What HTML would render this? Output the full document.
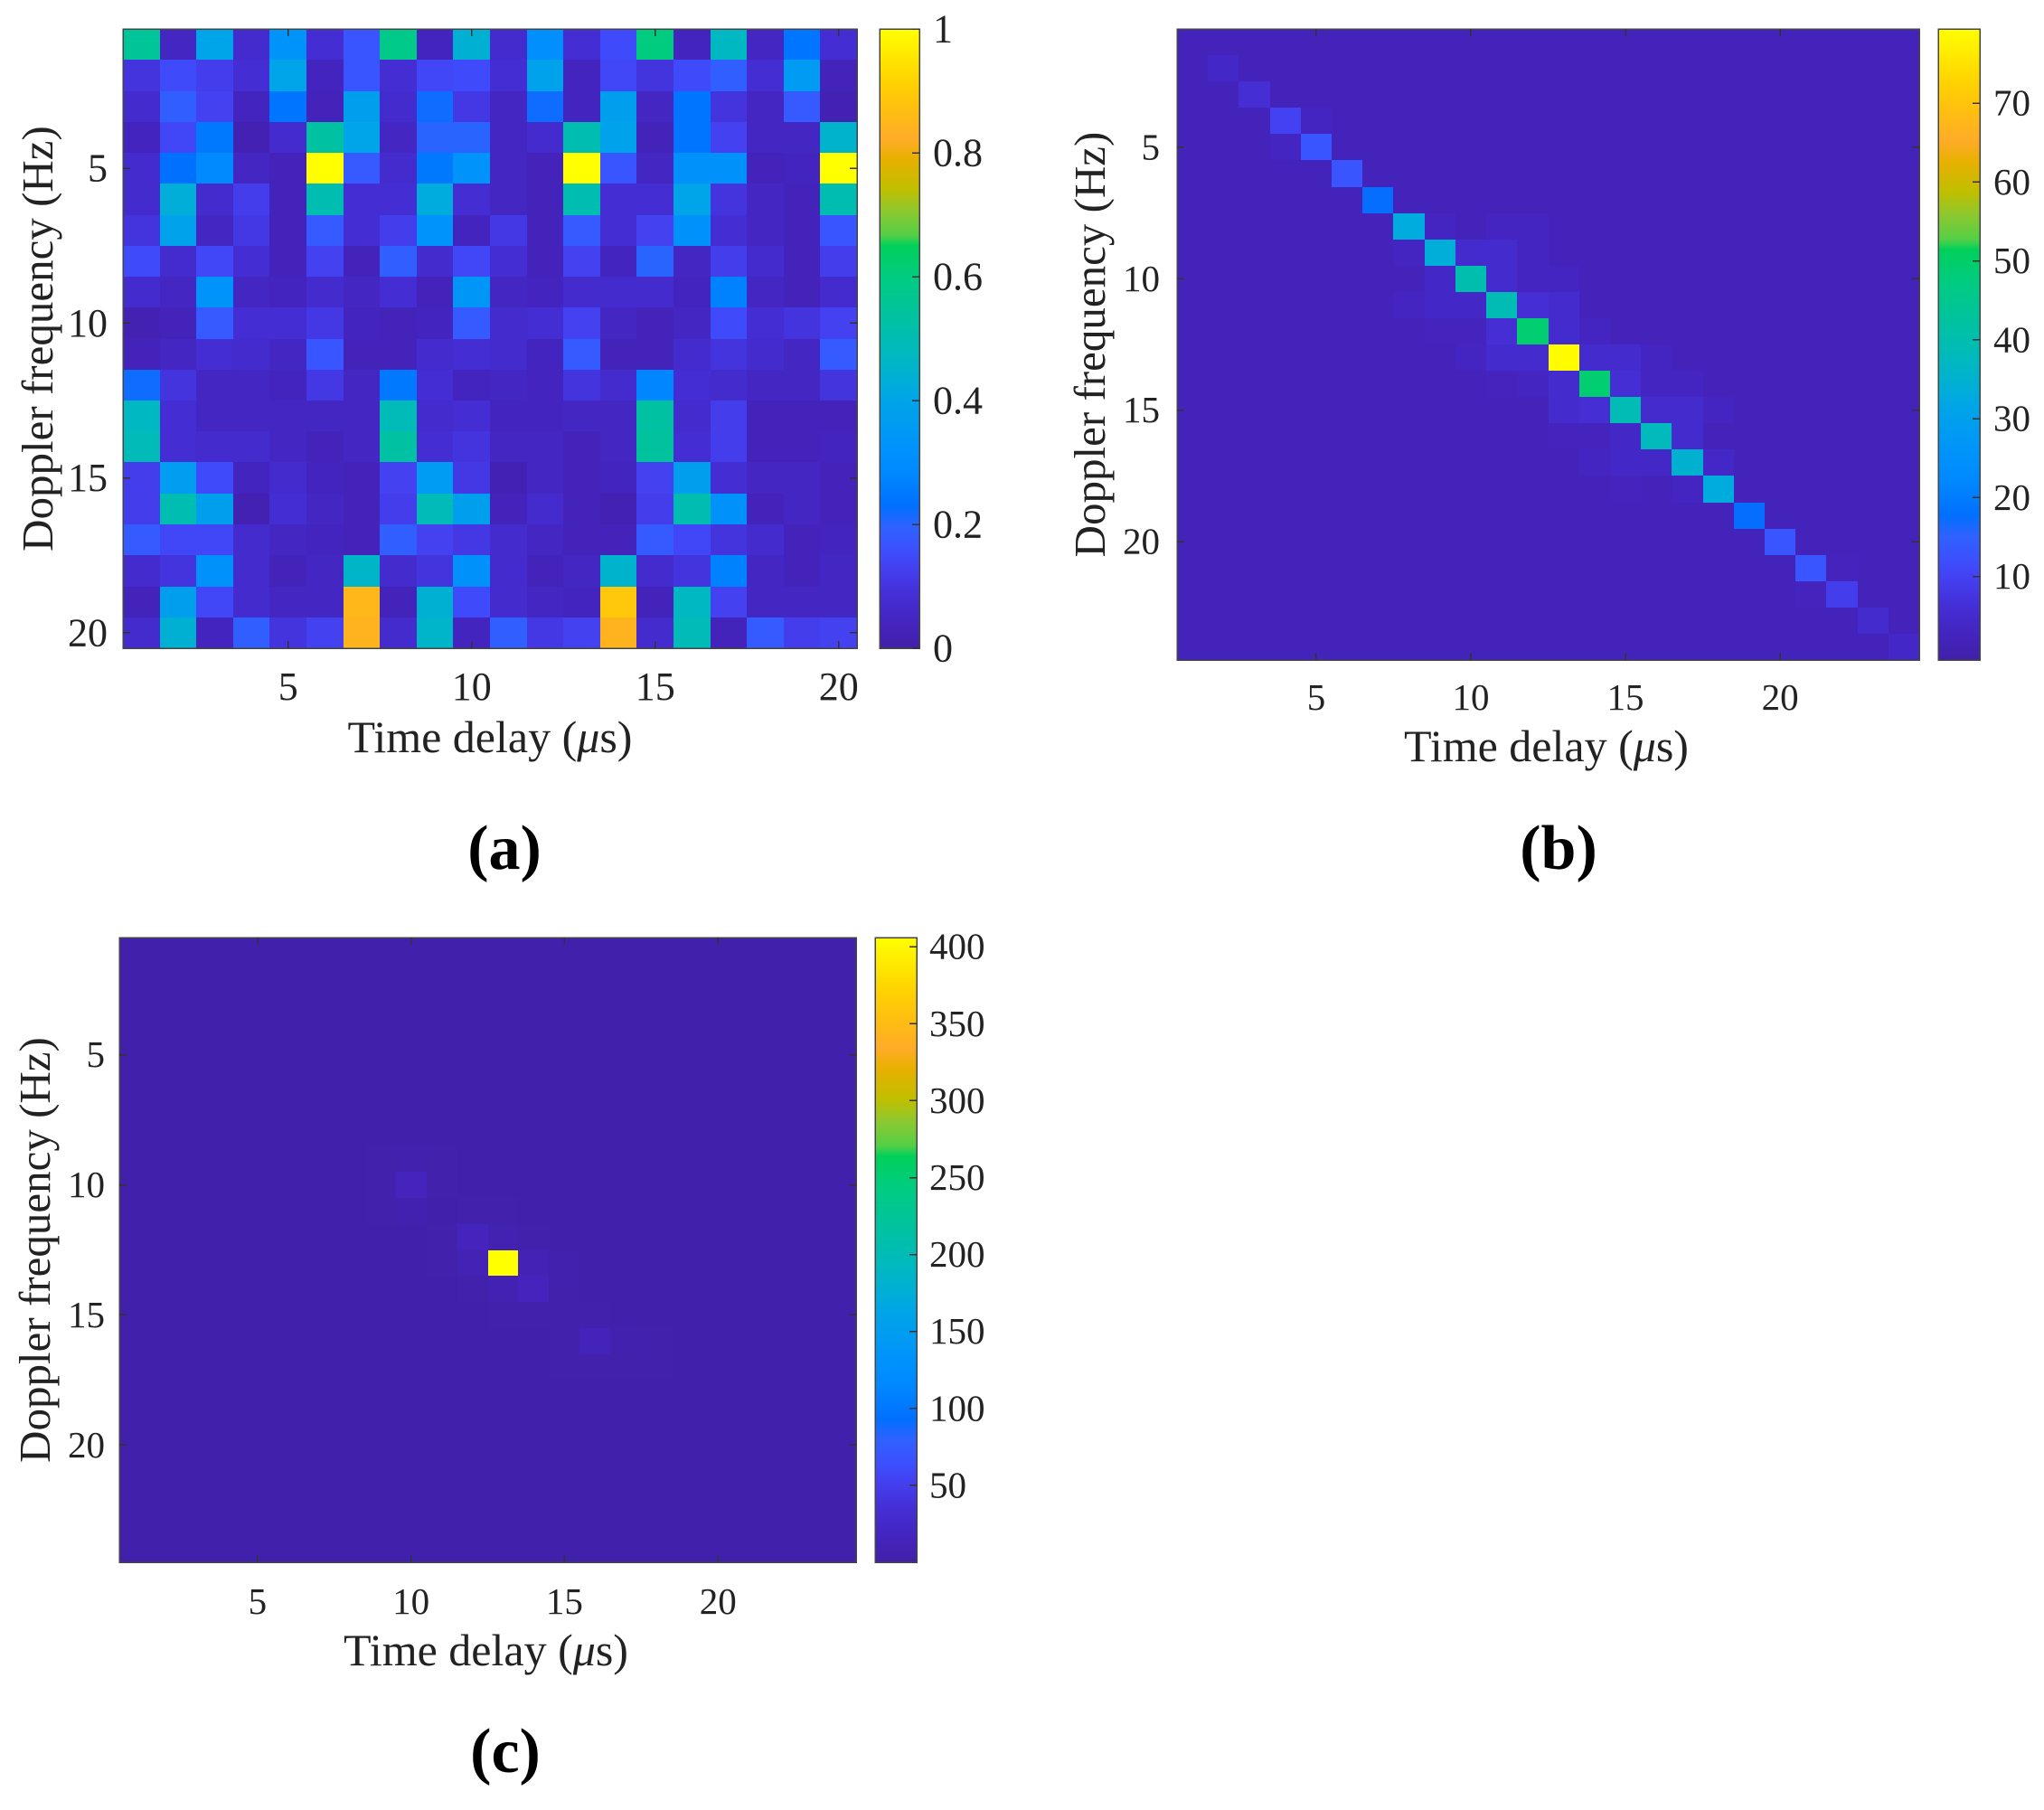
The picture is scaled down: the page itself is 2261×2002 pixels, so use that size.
<!DOCTYPE html>
<html lang="en">
<head>
<meta charset="utf-8">
<title>Delay-Doppler heatmaps</title>
<style>
html,body{margin:0;padding:0;background:#fff;}
svg{display:block;font-family:"Liberation Serif",serif;fill:#222;}
</style>
</head>
<body>
<svg id="figure" xmlns="http://www.w3.org/2000/svg" width="2261" height="2002" viewBox="0 0 2261 2002" shape-rendering="crispEdges"></svg>
<script>
// ---------- data ----------
const colorStopValues = [0, .04, .09, .128, .16, .196, .23, .283, .33, .4, .423, .472, .52, .6, .65, .667, .705, .74, .79, .823, .87, .92, 1];
const colorStopHex = ['#4120a8','#4424be','#4430d8','#4440f0','#3c50ff','#2f62ff','#0070ff','#0088ff','#0094fa','#00a4e8','#00acdc','#00b8c0','#00c0a8','#00cc80','#00d05a','#55cf45','#8cc830','#bfbf00','#e8b000','#ffac28','#ffbf10','#ffd500','#ffff00'];

const tickValuesXY = [5, 10, 15, 20];

const matrixA = [
[.55,.05,.40,.07,.33,.08,.17,.58,.04,.44,.07,.31,.08,.15,.60,.04,.47,.05,.24,.08],
[.10,.15,.12,.08,.40,.04,.17,.08,.14,.15,.08,.39,.04,.14,.10,.15,.19,.08,.36,.03],
[.07,.19,.13,.04,.24,.03,.38,.07,.22,.11,.05,.22,.04,.38,.05,.24,.10,.05,.18,.02],
[.04,.14,.25,.02,.07,.53,.40,.05,.20,.20,.05,.07,.50,.39,.03,.24,.13,.05,.05,.45],
[.07,.23,.29,.05,.03,1,.18,.07,.25,.33,.05,.03,1,.17,.05,.32,.32,.03,.04,1],
[.07,.43,.07,.12,.03,.50,.08,.08,.42,.08,.05,.03,.50,.08,.08,.40,.10,.05,.03,.50],
[.10,.39,.05,.11,.03,.18,.08,.12,.33,.04,.11,.03,.18,.08,.13,.32,.08,.05,.03,.17],
[.15,.07,.14,.08,.03,.13,.03,.19,.07,.14,.08,.03,.13,.04,.20,.05,.12,.07,.03,.12],
[.07,.05,.33,.05,.04,.07,.05,.08,.03,.34,.05,.04,.07,.07,.07,.04,.27,.05,.03,.07],
[.02,.03,.18,.08,.08,.11,.04,.03,.04,.18,.07,.08,.13,.05,.03,.05,.15,.08,.10,.13],
[.03,.05,.08,.07,.05,.17,.03,.03,.07,.08,.07,.04,.18,.03,.03,.07,.10,.07,.05,.18],
[.22,.10,.05,.05,.04,.11,.05,.25,.08,.04,.05,.04,.10,.07,.28,.08,.07,.05,.05,.10],
[.47,.08,.05,.05,.05,.05,.05,.49,.07,.08,.04,.04,.05,.05,.53,.07,.12,.03,.03,.03],
[.49,.08,.07,.07,.05,.03,.05,.53,.08,.10,.05,.05,.03,.05,.54,.08,.12,.03,.03,.04],
[.12,.37,.15,.04,.07,.04,.03,.13,.36,.11,.02,.05,.03,.04,.13,.38,.08,.05,.05,.03],
[.12,.50,.38,.02,.08,.05,.03,.12,.49,.38,.03,.07,.03,.02,.12,.50,.32,.03,.05,.03],
[.18,.14,.14,.07,.05,.04,.03,.19,.13,.11,.07,.05,.03,.03,.18,.14,.10,.07,.03,.04],
[.07,.10,.32,.07,.03,.05,.46,.07,.10,.32,.07,.03,.05,.45,.07,.10,.27,.05,.03,.05],
[.03,.38,.14,.07,.05,.05,.85,.03,.44,.15,.07,.05,.04,.89,.03,.47,.13,.05,.05,.05],
[.07,.44,.04,.19,.10,.13,.84,.07,.46,.04,.19,.11,.13,.84,.07,.49,.03,.18,.12,.13]
];
const colorTicksA = [0, .2, .4, .6, .8, 1];
const colorLabelsA = ['0', '0.2', '0.4', '0.6', '0.8', '1'];

const matrixB = [
[2,2,2,2,2,2,2,2,2,2,2,2,2,2,2,2,2,2,2,2,2,2,2,2],
[2,4,2,2,2,2,2,2,2,2,2,2,2,2,2,2,2,2,2,2,2,2,2,2],
[2,2,6,2,2,2,2,2,2,2,2,2,2,2,2,2,2,2,2,2,2,2,2,2],
[2,2,2,10,3,2,2,2,2,2,2,2,2,2,2,2,2,2,2,2,2,2,2,2],
[2,2,2,3,13,2,2,2,2,2,2,2,2,2,2,2,2,2,2,2,2,2,2,2],
[2,2,2,2,2,13,2,2,2,2,2,2,2,2,2,2,2,2,2,2,2,2,2,2],
[2,2,2,2,2,2,17.5,2,2,2,2,2,2,2,2,2,2,2,2,2,2,2,2,2],
[2,2,2,2,2,2,2,33,3,2,3,3,2,2,2,2,2,2,2,2,2,2,2,2],
[2,2,2,2,2,2,2,3,34,5,5,3,2,2,2,2,2,2,2,2,2,2,2,2],
[2,2,2,2,2,2,2,2,4,40,5,3,3,2,2,2,2,2,2,2,2,2,2,2],
[2,2,2,2,2,2,2,3,4,4,39,6,5,2,2,2,2,2,2,2,2,2,2,2],
[2,2,2,2,2,2,2,2,2.5,2.5,6,49,5,3,2,2,2,2,2,2,2,2,2,2],
[2,2,2,2,2,2,2,2,2,3,5,5,79,5,5,3,2,2,2,2,2,2,2,2],
[2,2,2,2,2,2,2,2,2,2,2.5,3,5,49,6,3,3,2,2,2,2,2,2,2],
[2,2,2,2,2,2,2,2,2,2,2,2,5,6,39,5,5,3,2,2,2,2,2,2],
[2,2,2,2,2,2,2,2,2,2,2,2,2.5,2.5,4,38,5,2,2,2,2,2,2,2],
[2,2,2,2,2,2,2,2,2,2,2,2,2,3,4,4,35,4,2,2,2,2,2,2],
[2,2,2,2,2,2,2,2,2,2,2,2,2,2,2.5,2,3,33,2,2,2,2,2,2],
[2,2,2,2,2,2,2,2,2,2,2,2,2,2,2,2,2,2,17.5,2,2,2,2,2],
[2,2,2,2,2,2,2,2,2,2,2,2,2,2,2,2,2,2,2,13,2,2,2,2],
[2,2,2,2,2,2,2,2,2,2,2,2,2,2,2,2,2,2,2,2,13,2.5,2,2],
[2,2,2,2,2,2,2,2,2,2,2,2,2,2,2,2,2,2,2,2,2.5,9,2,2],
[2,2,2,2,2,2,2,2,2,2,2,2,2,2,2,2,2,2,2,2,2,2,5,2],
[2,2,2,2,2,2,2,2,2,2,2,2,2,2,2,2,2,2,2,2,2,2,2,4]
];
const colorTicksB = [10, 20, 30, 40, 50, 60, 70];
const colorLabelsB = ['10', '20', '30', '40', '50', '60', '70'];

const matrixC = [
[2,2,2,2,2,2,2,2,2,2,2,2,2,2,2,2,2,2,2,2,2,2,2,2],
[2,2,2,2,2,2,2,2,2,2,2,2,2,2,2,2,2,2,2,2,2,2,2,2],
[2,2,2,2,2,2,2,2,2,2,2,2,2,2,2,2,2,2,2,2,2,2,2,2],
[2,2,2,2,2,2,2,2,2,2,2,2,2,2,2,2,2,2,2,2,2,2,2,2],
[2,2,2,2,2,2,2,2,2,2,2,2,2,2,2,2,2,2,2,2,2,2,2,2],
[2,2,2,2,2,2,2,2,2,2,2,2,2,2,2,2,2,2,2,2,2,2,2,2],
[2,2,2,2,2,2,2,2,2,2,2,2,2,2,2,2,2,2,2,2,2,2,2,2],
[2,2,2,2,2,2,2,2,2.5,2.5,2,2,2,2,2,2,2,2,2,2,2,2,2,2],
[2,2,2,2,2,2,2,2,3,5,3,2,2,2,2,2,2,2,2,2,2,2,2,2],
[2,2,2,2,2,2,2,2,4,15,4,2,2,2,2,2,2,2,2,2,2,2,2,2],
[2,2,2,2,2,2,2,2,3,6,2,4,4,2,2,2,2,2,2,2,2,2,2,2],
[2,2,2,2,2,2,2,2,2,2,3,15,7,3,2,2,2,2,2,2,2,2,2,2],
[2,2,2,2,2,2,2,2,2,2,3,10,406,9,5,2,2,2,2,2,2,2,2,2],
[2,2,2,2,2,2,2,2,2,2,2,3,8,15,4,2,2,2,2,2,2,2,2,2],
[2,2,2,2,2,2,2,2,2,2,2,2,4,4,3,4,2,2,2,2,2,2,2,2],
[2,2,2,2,2,2,2,2,2,2,2,2,2,2,4,14,5,3,2,2,2,2,2,2],
[2,2,2,2,2,2,2,2,2,2,2,2,2,2,3,4,3,3,2,2,2,2,2,2],
[2,2,2,2,2,2,2,2,2,2,2,2,2,2,2,2,2,2,2,2,2,2,2,2],
[2,2,2,2,2,2,2,2,2,2,2,2,2,2,2,2,2,2,2,2,2,2,2,2],
[2,2,2,2,2,2,2,2,2,2,2,2,2,2,2,2,2,2,2,2,2,2,2,2],
[2,2,2,2,2,2,2,2,2,2,2,2,2,2,2,2,2,2,2,2,2,2,2,2],
[2,2,2,2,2,2,2,2,2,2,2,2,2,2,2,2,2,2,2,2,2,2,2,2],
[2,2,2,2,2,2,2,2,2,2,2,2,2,2,2,2,2,2,2,2,2,2,2,2],
[2,2,2,2,2,2,2,2,2,2,2,2,2,2,2,2,2,2,2,2,2,2,2,2]
];
const colorTicksC = [50, 100, 150, 200, 250, 300, 350, 400];
const colorLabelsC = ['50', '100', '150', '200', '250', '300', '350', '400'];

// ---------- helpers ----------
const NS = 'http://www.w3.org/2000/svg';
const root = document.getElementById('figure');
function make(parent, tag, attrs) {
  const el = document.createElementNS(NS, tag);
  for (const k in attrs) el.setAttribute(k, attrs[k]);
  parent.appendChild(el);
  return el;
}
function hexRgb(h) {
  return [parseInt(h.slice(1, 3), 16), parseInt(h.slice(3, 5), 16), parseInt(h.slice(5, 7), 16)];
}
function colormap(t) {
  t = Math.max(0, Math.min(1, t));
  for (let i = 1; i < colorStopValues.length; i++) {
    if (t <= colorStopValues[i]) {
      const f = (t - colorStopValues[i - 1]) / (colorStopValues[i] - colorStopValues[i - 1]);
      const a = hexRgb(colorStopHex[i - 1]);
      const b = hexRgb(colorStopHex[i]);
      return 'rgb(' + a.map((v, j) => Math.round(v + (b[j] - v) * f)).join(',') + ')';
    }
  }
  return colorStopHex[colorStopHex.length - 1];
}

const gradient = make(make(root, 'defs', {}), 'linearGradient', { id: 'cbar-gradient', x1: 0, y1: 1, x2: 0, y2: 0 });
colorStopValues.forEach((v, i) => {
  make(gradient, 'stop', { offset: v, 'stop-color': colorStopHex[i] });
});

function drawPanel(p) {
  const g = make(root, 'g', {});
  
  
  const rows = p.matrix.length;
  const cols = p.matrix[0].length;
  const xScale = v => p.left + (v - 0.5) / cols * (p.right - p.left);
  const yScale = v => p.top + (v - 0.5) / rows * (p.bottom - p.top);
  const cScale = v => p.bottom - (v - p.vmin) / (p.vmax - p.vmin) * (p.bottom - p.top);

  // heatmap cells
  const cells = make(g, 'g', {});
  
  
  p.matrix.forEach((row, r) => {
    row.forEach((val, c) => {
      const x0 = Math.round(xScale(c + 0.5));
      const x1 = Math.round(xScale(c + 1.5));
      const y0 = Math.round(yScale(r + 0.5));
      const y1 = Math.round(yScale(r + 1.5));
      const cell = make(cells, 'rect', { x: x0, y: y0, width: x1 - x0, height: y1 - y0, fill: colormap((val - p.vmin) / (p.vmax - p.vmin)) });
      
      
    });
  });

  // axes frame
  const frame = make(g, 'rect', { x: p.left, y: p.top, width: p.right - p.left, height: p.bottom - p.top, fill: 'none', stroke: '#444', 'stroke-width': 1.5 });
  
  

  // x ticks
  tickValuesXY.forEach(v => {
    const x = xScale(v);
    const tb = make(g, 'line', { x1: x, x2: x, y1: p.bottom, y2: p.bottom - 8, stroke: '#333', 'stroke-width': 1.5 });
    
    
    const tt = make(g, 'line', { x1: x, x2: x, y1: p.top, y2: p.top + 8, stroke: '#333', 'stroke-width': 1.5 });
    
    
    const lab = make(g, 'text', { x: x, y: p.xTickBase, 'font-size': p.tickFont, 'text-anchor': 'middle' });
    
    
    lab.textContent = v;
  });

  // y ticks
  tickValuesXY.forEach(v => {
    const y = yScale(v);
    const tl = make(g, 'line', { x1: p.left, x2: p.left + 8, y1: y, y2: y, stroke: '#333', 'stroke-width': 1.5 });
    
    
    const tr = make(g, 'line', { x1: p.right, x2: p.right - 8, y1: y, y2: y, stroke: '#333', 'stroke-width': 1.5 });
    
    
    const lab = make(g, 'text', { x: p.yTickRight, y: y + p.tickFont * 0.33, 'font-size': p.tickFont, 'text-anchor': 'end' });
    
    
    lab.textContent = v;
  });

  // x axis title
  const xt = make(g, 'text', { x: (p.left + p.right) / 2 + p.xTitleShift, y: p.xTitleBase, 'font-size': 50, 'text-anchor': 'middle' });
  
  
  make(xt, 'tspan', {}).textContent = 'Time delay (';
  make(xt, 'tspan', { 'font-style': 'italic' }).textContent = 'μ';
  make(xt, 'tspan', {}).textContent = 's)';

  // y axis title
  const yt = make(g, 'text', { transform: 'translate(' + p.yTitleX + ',' + ((p.top + p.bottom) / 2) + ') rotate(-90)', 'font-size': 49, 'text-anchor': 'middle' });
  
  
  yt.textContent = 'Doppler frequency (Hz)';

  // colorbar
  const cb = make(g, 'rect', { x: p.cbLeft, y: p.top, width: p.cbRight - p.cbLeft, height: p.bottom - p.top, fill: 'url(#cbar-gradient)', stroke: '#444', 'stroke-width': 1.5 });
  
  
  p.cTicks.forEach((v, i) => {
    const y = cScale(v);
    const t = make(g, 'line', { x1: p.cbRight, x2: p.cbRight - 8, y1: y, y2: y, stroke: '#333', 'stroke-width': 1.5 });
    
    
    const lab = make(g, 'text', { x: p.cbLabelX, y: y + p.tickFont * 0.33, 'font-size': p.tickFont });
    
    
    lab.textContent = p.cLabels[i];
  });

  // caption
  const cap = make(g, 'text', { x: p.capX, y: p.capBase, 'font-size': 70, 'font-weight': 'bold', 'text-anchor': 'middle', fill: '#000' });
  
  
  cap.textContent = p.caption;
}

drawPanel({
  name: 'panel-a', matrix: matrixA, vmin: 0, vmax: 1,
  left: 136, right: 948, top: 32, bottom: 717,
  cbLeft: 973, cbRight: 1017, cbLabelX: 1032,
  cTicks: colorTicksA, cLabels: colorLabelsA,
  tickFont: 44, xTickBase: 774, xTitleBase: 832, xTitleShift: 0,
  yTickRight: 119, yTitleX: 58, capX: 558, capBase: 961, caption: '(a)'
});
drawPanel({
  name: 'panel-b', matrix: matrixB, vmin: -0.6, vmax: 79.4,
  left: 1302, right: 2123, top: 32, bottom: 730,
  cbLeft: 2144, cbRight: 2190, cbLabelX: 2205,
  cTicks: colorTicksB, cLabels: colorLabelsB,
  tickFont: 41, xTickBase: 785, xTitleBase: 842, xTitleShift: -2,
  yTickRight: 1283, yTitleX: 1222, capX: 1724, capBase: 961, caption: '(b)'
});
drawPanel({
  name: 'panel-c', matrix: matrixC, vmin: 0, vmax: 406,
  left: 132, right: 947, top: 1037, bottom: 1728,
  cbLeft: 968, cbRight: 1014, cbLabelX: 1028,
  cTicks: colorTicksC, cLabels: colorLabelsC,
  tickFont: 41, xTickBase: 1785, xTitleBase: 1842, xTitleShift: -2,
  yTickRight: 116, yTitleX: 55, capX: 559, capBase: 1960, caption: '(c)'
});
</script>
</body>
</html>
